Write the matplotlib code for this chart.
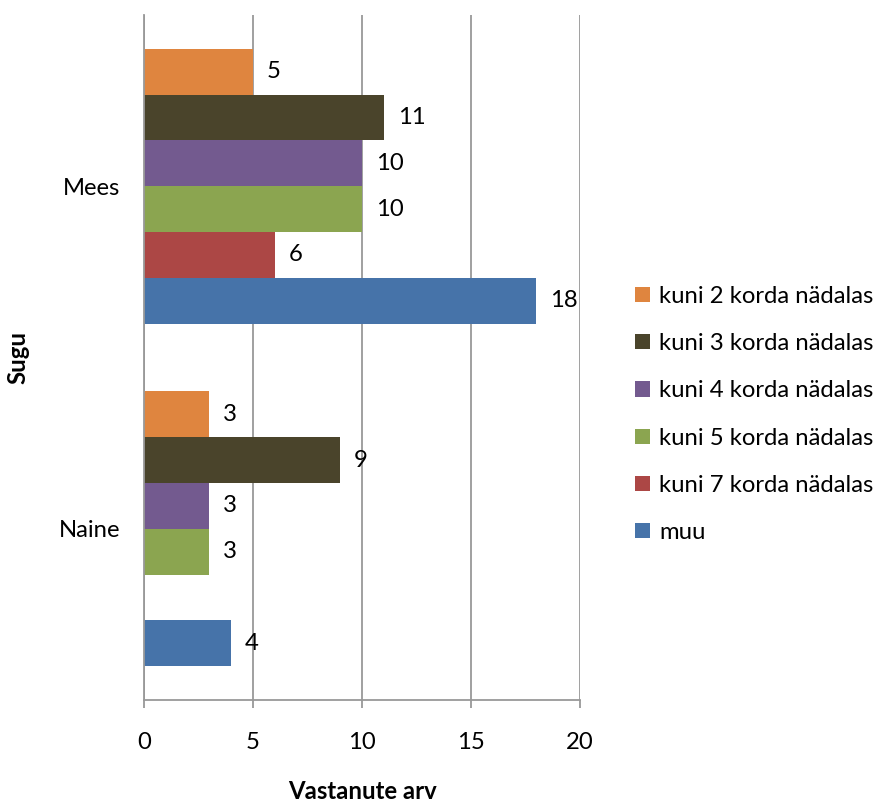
import numpy as np
import matplotlib.pyplot as plt

plt.rcParams['font.family'] = ['Lato', 'DejaVu Sans']

categories = ['Naine', 'Mees']
series_names = ['kuni 2 korda nädalas', 'kuni 3 korda nädalas', 'kuni 4 korda nädalas',
                'kuni 5 korda nädalas', 'kuni 7 korda nädalas', 'muu']
# values per series: [Naine, Mees]
kuni2 = [3, 5]
kuni3 = [9, 11]
kuni4 = [3, 10]
kuni5 = [3, 10]
kuni7 = [np.nan, 6]
muu = [4, 18]
series_values = [kuni2, kuni3, kuni4, kuni5, kuni7, muu]
colors = ['#DF853F', '#4A442B', '#735A8F', '#8BA550', '#AC4745', '#4673A9']
x_ticks = [0, 5, 10, 15, 20]

fs = 17.2

fig = plt.figure(figsize=(8.85, 8.05), dpi=100)
ax = fig.add_axes([0.1627, 0.1304, 0.4927, 0.851])

h = 0.1336
y = np.arange(len(categories))
n = len(series_names)
for i, (name, vals, c) in enumerate(zip(series_names, series_values, colors)):
    offs = (n - 1) / 2 - i
    yy = y + offs * h
    bars = ax.barh(yy, vals, height=h, color=c, label=name, zorder=3)
    for b, v in zip(bars, vals):
        if np.isnan(v):
            continue
        ax.annotate(f'{v:g}', (v, b.get_y() + h / 2), xytext=(10, 0),
                    textcoords='offset points', ha='left', va='center', fontsize=fs)

ax.set_xlim(0, 20)
ax.set_ylim(-0.5, 1.5)
ax.set_xticks(x_ticks)
ax.set_yticks(y)
ax.set_yticklabels(categories)
ax.grid(axis='x', color='#999999', linewidth=1.3, zorder=0)
for s in ['top', 'right']:
    ax.spines[s].set_visible(False)
for s in ['left', 'bottom']:
    ax.spines[s].set_color('#999999')
    ax.spines[s].set_linewidth(1.3)
    ax.spines[s].set_zorder(4)
ax.tick_params(axis='x', direction='out', length=6, width=1.3, color='#999999',
               labelsize=fs, pad=17)
ax.tick_params(axis='y', length=0, labelsize=fs, pad=17)
ax.set_xlabel('Vastanute arv', fontsize=fs, fontweight='bold')
ax.set_ylabel('Sugu', fontsize=fs, fontweight='bold')
ax.xaxis.set_label_coords(0.5, -0.134)
ax.yaxis.set_label_coords(-0.289, 0.5)
ax.xaxis.label.set_va('center')
ax.yaxis.label.set_va('center')

ax.legend(loc='center left', bbox_to_anchor=(0.718, 0.485), bbox_transform=fig.transFigure,
          frameon=False, fontsize=fs, handlelength=0.6, handleheight=0.6,
          handletextpad=0.4, labelspacing=1.1, borderpad=0, borderaxespad=0)

fig.savefig('out.png', dpi=100)
